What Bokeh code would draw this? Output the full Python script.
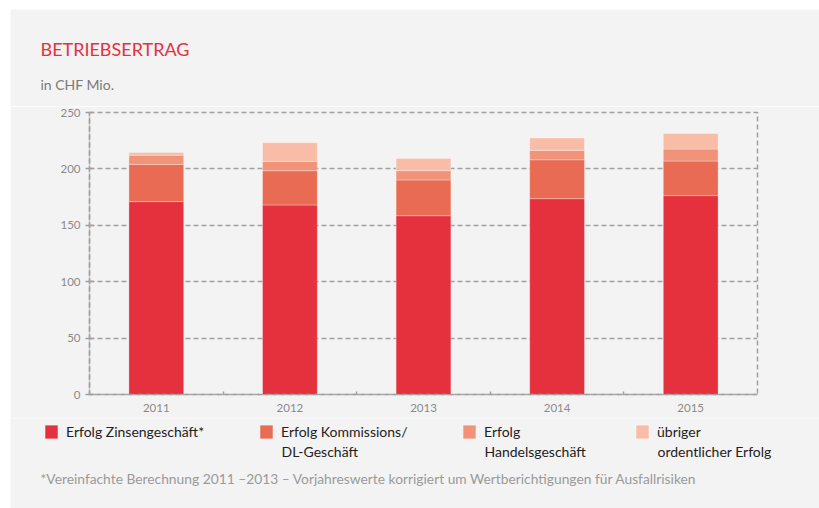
from bokeh.plotting import figure
from bokeh.layouts import column
from bokeh.models import (Range1d, FixedTicker, Legend, LegendItem, Label,
                          ColumnDataSource)
from bokeh.core.properties import value
from bokeh.embed import file_html
from bokeh.resources import INLINE

# ---- data -------------------------------------------------------------
years = ["2011", "2012", "2013", "2014", "2015"]
zins = [171.0, 168.0, 158.5, 173.6, 176.3]
kommission = [33.0, 30.4, 31.7, 34.5, 30.7]
handel = [8.2, 8.2, 8.2, 8.3, 10.6]
uebriger = [2.4, 16.6, 10.9, 11.0, 13.8]
y_ticks = [0, 50, 100, 150, 200, 250]

series_keys = ["zins", "kommission", "handel", "uebriger"]
legend_line1 = ["Erfolg Zinsengeschäft*", "Erfolg Kommissions/",
                "Erfolg", "übriger"]
legend_line2 = ["", "DL-Geschäft", "Handelsgeschäft", "ordentlicher Erfolg"]
colors = ["#E5303D", "#E96B53", "#F09379", "#F9BDA7"]

title_text = "BETRIEBSERTRAG"
unit_text = "in CHF Mio."
footnote_text = ("*Vereinfachte Berechnung 2011 –2013 – Vorjahreswerte korrigiert "
                 "um Wertberichtigungen für Ausfallrisiken")

# ---- styling constants -------------------------------------------------
FONT = "Lato"
GRID = "#A0A0A0"
BG = "#F3F3F3"
W = 809
H_HEAD, H_MAIN, H_FOOT = 97, 312, 90


def blank(height):
    f = figure(width=W, height=height, output_backend="svg",
               toolbar_location=None, x_axis_location=None,
               y_axis_location=None, x_range=Range1d(0, W),
               y_range=Range1d(0, height), min_border=0,
               min_border_left=0, min_border_right=0,
               min_border_top=0, min_border_bottom=0,
               frame_align=False,
               background_fill_color=BG, border_fill_color=BG)
    f.grid.visible = False
    f.outline_line_color = None
    return f


# ---- header -----------------------------------------------------------
head = blank(H_HEAD)
head.add_layout(Label(x=30, y=58, text=title_text, text_font=FONT,
                      text_font_size="18px", text_color="#E5303D",
                      text_baseline="middle"))
head.add_layout(Label(x=30, y=22.5, text=unit_text, text_font=FONT,
                      text_font_size="14px", text_color="#7A7A7A",
                      text_baseline="middle"))

# ---- main chart -------------------------------------------------------
xs = [i + 0.5 for i in range(len(years))]
source = ColumnDataSource(dict(x=xs, zins=zins, kommission=kommission,
                               handel=handel, uebriger=uebriger))

p = figure(width=W, height=H_MAIN, output_backend="svg", toolbar_location=None,
           x_range=Range1d(0, len(years)), y_range=Range1d(0, 250),
           min_border_left=79, min_border_right=62,
           min_border_top=6, min_border_bottom=24, frame_align=False,
           background_fill_color=BG, border_fill_color=BG)

renderers = p.vbar_stack(series_keys, x="x", width=0.41, source=source,
                         fill_color=colors, line_color="white",
                         line_alpha=0.3, line_width=1)

p.xgrid.visible = False
p.ygrid.grid_line_color = GRID
p.ygrid.grid_line_dash = "5 3"
p.ygrid.grid_line_width = 1.5
p.outline_line_color = GRID
p.outline_line_dash = "5 3"
p.outline_line_width = 1.5

ya = p.yaxis[0]
ya.ticker = FixedTicker(ticks=y_ticks)
ya.axis_line_color = GRID
ya.axis_line_dash = "5 3"
ya.axis_line_width = 1.5
ya.major_tick_line_color = GRID
ya.major_tick_line_width = 1.5
ya.major_tick_in = 4
ya.major_tick_out = 4
ya.minor_tick_line_color = None
ya.major_label_standoff = 5
ya.major_label_text_font = FONT
ya.major_label_text_font_size = "11.5px"
ya.major_label_text_color = "#8A8A8A"

xa = p.xaxis[0]
xa.ticker = FixedTicker(ticks=xs, minor_ticks=list(range(1, len(years))))
xa.major_label_overrides = {x: y for x, y in zip(xs, years)}
xa.axis_line_color = GRID
xa.axis_line_dash = "5 3"
xa.axis_line_width = 1.5
xa.major_tick_line_color = None
xa.major_tick_in = 0
xa.major_tick_out = 0
xa.minor_tick_line_color = GRID
xa.minor_tick_line_width = 1.5
xa.minor_tick_in = 3
xa.minor_tick_out = 0
xa.major_label_standoff = 9
xa.major_label_text_font = FONT
xa.major_label_text_font_size = "11.5px"
xa.major_label_text_color = "#8A8A8A"

# ---- footer: legend + footnote ------------------------------------------
foot = blank(H_FOOT)
# legend proxies share the chart data but sit on a range that keeps them
# outside the visible footer area; only their legend swatches are shown
foot.extra_y_ranges = {"hidden": Range1d(1000, 2000)}
proxies = foot.vbar_stack(series_keys, x="x", width=0.41, source=source,
                          fill_color=colors, line_color="white",
                          line_alpha=0.3, line_width=1, y_range_name="hidden")
SW, SH, STANDOFF = 16, 17, 7
legend_x = [33, 248, 451, 624]
for r, l1, l2, lx in zip(proxies, legend_line1, legend_line2, legend_x):
    foot.add_layout(Legend(items=[LegendItem(label=value(l1), renderers=[r])],
                           location=(lx, 68), orientation="vertical",
                           margin=0, padding=0, spacing=0,
                           glyph_width=SW, glyph_height=SH,
                           label_standoff=STANDOFF,
                           border_line_color=None, background_fill_alpha=0,
                           label_text_font=FONT, label_text_font_size="14px",
                           label_text_color="#222222", label_height=SH))
    if l2:
        foot.add_layout(Label(x=lx + SW + STANDOFF, y=57.5, text=l2,
                              text_font=FONT, text_font_size="14px",
                              text_color="#222222", text_baseline="middle"))
foot.add_layout(Label(x=30, y=30, text=footnote_text, text_font=FONT,
                      text_font_size="13.8px", text_color="#9A9A9A",
                      text_baseline="middle"))

layout = column(head, p, foot, spacing=0)
layout.margin = (9, 0, 0, 10)

open("out.html", "w").write(file_html(layout, INLINE))
